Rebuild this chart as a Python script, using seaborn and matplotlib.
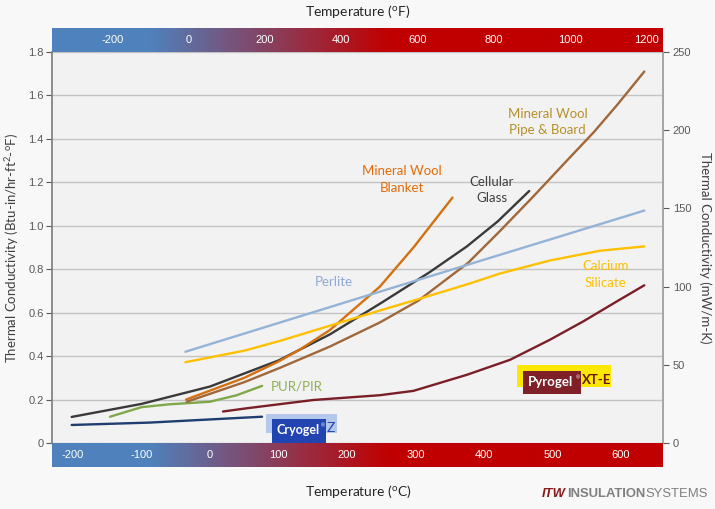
import numpy as np
import pandas as pd
import matplotlib
matplotlib.use("Agg")
import matplotlib.pyplot as plt
import seaborn as sns
from matplotlib.patches import Rectangle

sns.set_theme(style="white")
plt.rcParams["font.family"] = ["Liberation Sans", "DejaVu Sans"]

# ---------------- data (temperature in degC, conductivity in Btu-in/hr-ft2-F)
cryogel_t = [-202, -88, 76]
cryogel_k = [0.083, 0.094, 0.121]

pur_t = [-146, -100, -60, 0, 39, 76]
pur_k = [0.121, 0.165, 0.178, 0.19, 0.22, 0.263]

pyrogel_t = [19, 54, 151, 248, 297, 375, 438, 496, 545, 594, 634]
pyrogel_k = [0.145, 0.16, 0.198, 0.22, 0.24, 0.314, 0.383, 0.475, 0.56, 0.652, 0.726]

cellular_t = [-202, -100, 0, 100, 175, 250, 320, 375, 420, 466]
cellular_k = [0.12, 0.18, 0.26, 0.38, 0.50, 0.645, 0.785, 0.905, 1.02, 1.16]

mwblanket_t = [-35, 50, 100, 131, 175, 248, 297, 354]
mwblanket_k = [0.20, 0.30, 0.375, 0.43, 0.52, 0.72, 0.90, 1.13]

mwpipe_t = [-34, 50, 102, 175, 248, 304, 377, 423, 472, 521, 560, 594, 634]
mwpipe_k = [0.19, 0.28, 0.346, 0.444, 0.555, 0.655, 0.83, 0.975, 1.135, 1.30, 1.43, 1.555, 1.71]

perlite_t = [-36, 241, 634]
perlite_k = [0.42, 0.69, 1.07]

calsil_t = [-36, 50, 102, 175, 248, 307, 380, 423, 496, 569, 634]
calsil_k = [0.372, 0.425, 0.47, 0.54, 0.61, 0.665, 0.735, 0.78, 0.84, 0.885, 0.905]

series = {
    "Cryogel Z": (cryogel_t, cryogel_k),
    "PUR/PIR": (pur_t, pur_k),
    "Pyrogel XT-E": (pyrogel_t, pyrogel_k),
    "Cellular Glass": (cellular_t, cellular_k),
    "Mineral Wool Blanket": (mwblanket_t, mwblanket_k),
    "Mineral Wool Pipe & Board": (mwpipe_t, mwpipe_k),
    "Perlite": (perlite_t, perlite_k),
    "Calcium Silicate": (calsil_t, calsil_k),
}
line_colors = {
    "Cryogel Z": "#1F3D6E",
    "PUR/PIR": "#7FA84A",
    "Pyrogel XT-E": "#7B1F27",
    "Cellular Glass": "#3A3A3A",
    "Mineral Wool Blanket": "#D4700F",
    "Mineral Wool Pipe & Board": "#A0673A",
    "Perlite": "#95B3D7",
    "Calcium Silicate": "#FFC000",
}

left_ticks = [0, 0.2, 0.4, 0.6, 0.8, 1.0, 1.2, 1.4, 1.6, 1.8]
left_labels = ["0", "0.2", "0.4", "0.6", "0.8", "1.0", "1.2", "1.4", "1.6", "1.8"]
right_ticks = [0, 50, 100, 150, 200, 250]
c_ticks = [-200, -100, 0, 100, 200, 300, 400, 500, 600]
f_ticks = [-200, 0, 200, 400, 600, 800, 1000, 1200]

rows = []
for name, (ts, ks) in series.items():
    for t, k in zip(ts, ks):
        rows.append({"material": name, "temp": t, "k": k})
df = pd.DataFrame(rows)

# ---------------- layout
W, H = 715, 509
L, R, T, B = 52, 663, 52, 443
fig = plt.figure(figsize=(W / 100, H / 100), dpi=100)
fig.patch.set_facecolor("#F8F8F8")
ax = fig.add_axes([L / W, 1 - B / H, (R - L) / W, (B - T) / H])
ax.set_facecolor("#F2F2F2")

XLIM = (-230.7, 661.3)
FLIM = (-358.7, 1243.3)

sns.lineplot(data=df, x="temp", y="k", hue="material", palette=line_colors,
             estimator=None, sort=True, linewidth=1.7, legend=False, ax=ax)
for ln in ax.get_lines():
    ln.set_solid_joinstyle("round")
    ln.set_solid_capstyle("round")

lab_font = ["Lato", "DejaVu Sans"]

ax.set_xlim(*XLIM)
ax.set_ylim(0, 1.8)
ax.set_yticks(left_ticks)
ax.set_yticklabels(left_labels)
ax.set_xticks([])
ax.set_xlabel("")
ax.set_ylabel("")
ax.grid(axis="y", color="#C4C4C4", linewidth=1)
ax.tick_params(axis="y", colors="#595959", labelsize=8, length=4, width=0.8,
               direction="out", left=True, pad=2)
for s in ["top", "bottom"]:
    ax.spines[s].set_visible(False)
ax.spines["left"].set_color("#808080")
ax.spines["right"].set_color("#A6A6A6")

ax2 = ax.twinx()
ax2.set_ylim(0, 250)
ax2.set_yticks(right_ticks)
ax2.tick_params(axis="y", colors="#595959", labelsize=8, length=4, width=0.8,
                direction="out", right=True, pad=3)
ax2.set_ylabel("")
for s in ["top", "bottom", "left"]:
    ax2.spines[s].set_visible(False)
ax2.spines["right"].set_color("#A6A6A6")
ax2.grid(False)

fig.text(12 / W, 1 - 248 / H,
         "Thermal Conductivity (Btu-in/hr-ft$\\mathregular{^2}$-$\\mathregular{^o}$F)",
         rotation=90, ha="center", va="center", fontsize=9.5, color="#404040",
         family=lab_font)
fig.text(705 / W, 1 - 248 / H, "Thermal Conductivity (mW/m-K)", rotation=270,
         ha="center", va="center", fontsize=9.5, color="#404040", family=lab_font)

# ---------------- gradient bands
blue = np.array([79, 129, 189]) / 255
red = np.array([192, 0, 0]) / 255
f = np.linspace(0, 1, 600)
tt = np.clip((f - 0.16) / (0.55 - 0.16), 0, 1)
grad = (blue[None, :] * (1 - tt[:, None]) + red[None, :] * tt[:, None])[None, :, :]

def band(ypix, lim, ticks):
    bax = fig.add_axes([L / W, 1 - (ypix + 24) / H, (R - L) / W, 24 / H])
    bax.imshow(grad, extent=(lim[0], lim[1], 0, 1), aspect="auto")
    bax.set_xlim(*lim)
    bax.set_ylim(0, 1)
    bax.axis("off")
    for v in ticks:
        bax.text(v, 0.5, str(v), color="white", ha="center", va="center",
                 fontsize=8, family=["Liberation Sans Narrow", "Liberation Sans"])
    return bax

band(T - 24, FLIM, f_ticks)
band(B, XLIM, c_ticks)

fig.text(358 / W, 1 - 12 / H, "Temperature ($\\mathregular{^o}$F)", ha="center", va="center",
         fontsize=10, color="#262626", family=lab_font)
fig.text(358 / W, 1 - 491 / H, "Temperature ($\\mathregular{^o}$C)", ha="center", va="center",
         fontsize=10, color="#262626", family=lab_font)

# ---------------- curve labels
def lab(x, y, s, c):
    ax.text(x, y, s, color=c, ha="center", va="center", fontsize=9.5,
            family=lab_font, linespacing=1.45, zorder=6)

lab(280, 1.214, "Mineral Wool\nBlanket", "#E46C0A")
lab(411, 1.165, "Cellular\nGlass", "#404040")
lab(493, 1.477, "Mineral Wool\nPipe & Board", "#B8902A")
lab(181, 0.743, "Perlite", "#8EA9DB")
lab(577, 0.775, "Calcium\nSilicate", "#FFC000")
lab(127, 0.258, "PUR/PIR", "#8DB255")

# Cryogel Z badge
ax.add_patch(Rectangle((81.8, 0.046), 103.6, 0.088, facecolor="#B4C8EC",
                       edgecolor="none", zorder=5, clip_on=False))
ax.add_patch(Rectangle((90.5, 0.0), 78.8, 0.111, facecolor="#2244B0",
                       edgecolor="none", zorder=6, clip_on=False))
ax.text(128.5, 0.058, "Cryogel", color="white", fontweight="bold", ha="center",
        va="center", fontsize=9, family=lab_font, zorder=7)
ax.text(165, 0.08, "\u00ae", color="white", ha="center", va="center",
        fontsize=4, zorder=7)
ax.text(177, 0.069, "Z", color="#2446B0", ha="center", va="center",
        fontsize=10, family=lab_font, zorder=7)

# Pyrogel XT-E badge
ax.add_patch(Rectangle((448.2, 0.258), 137.2, 0.102, facecolor="#FFE800",
                       edgecolor="none", zorder=5))
ax.add_patch(Rectangle((457, 0.226), 84.6, 0.106, facecolor="#7F1F27",
                       edgecolor="none", zorder=6))
ax.text(497, 0.28, "Pyrogel", color="white", fontweight="bold", ha="center",
        va="center", fontsize=9.5, family=lab_font, zorder=7)
ax.text(537.5, 0.302, "\u00ae", color="white", ha="center", va="center",
        fontsize=4, zorder=7)
ax.text(564, 0.29, "XT-E", color="#6A1818", ha="center", va="center",
        fontsize=9.5, fontweight="bold", family=lab_font, zorder=7)

# ---------------- logo
LOGO_FS = 9.4
t1 = fig.text(542 / W, 1 - 494 / H, "ITW", color="#8B1A1A", fontsize=LOGO_FS,
              fontweight="bold", style="italic", va="center", ha="left",
              family=["Liberation Sans", "DejaVu Sans"])
t2 = fig.text(0, 0, "INSULATION", color="#7F7F7F", fontsize=LOGO_FS, fontweight="bold",
              family=["Liberation Sans Narrow", "Liberation Sans"], va="center")
t3 = fig.text(0, 0, "SYSTEMS", color="#7F7F7F", fontsize=LOGO_FS,
              family=["Liberation Sans Narrow", "Liberation Sans"], va="center")
fig.canvas.draw()
rend = fig.canvas.get_renderer()
bb1 = t1.get_window_extent(rend)
t2.set_position(((bb1.x1 + 1) / W, 1 - 494 / H))
fig.canvas.draw()
bb2 = t2.get_window_extent(rend)
t3.set_position(((bb2.x1) / W, 1 - 494 / H))

fig.savefig("out.png", dpi=100, facecolor=fig.get_facecolor())
